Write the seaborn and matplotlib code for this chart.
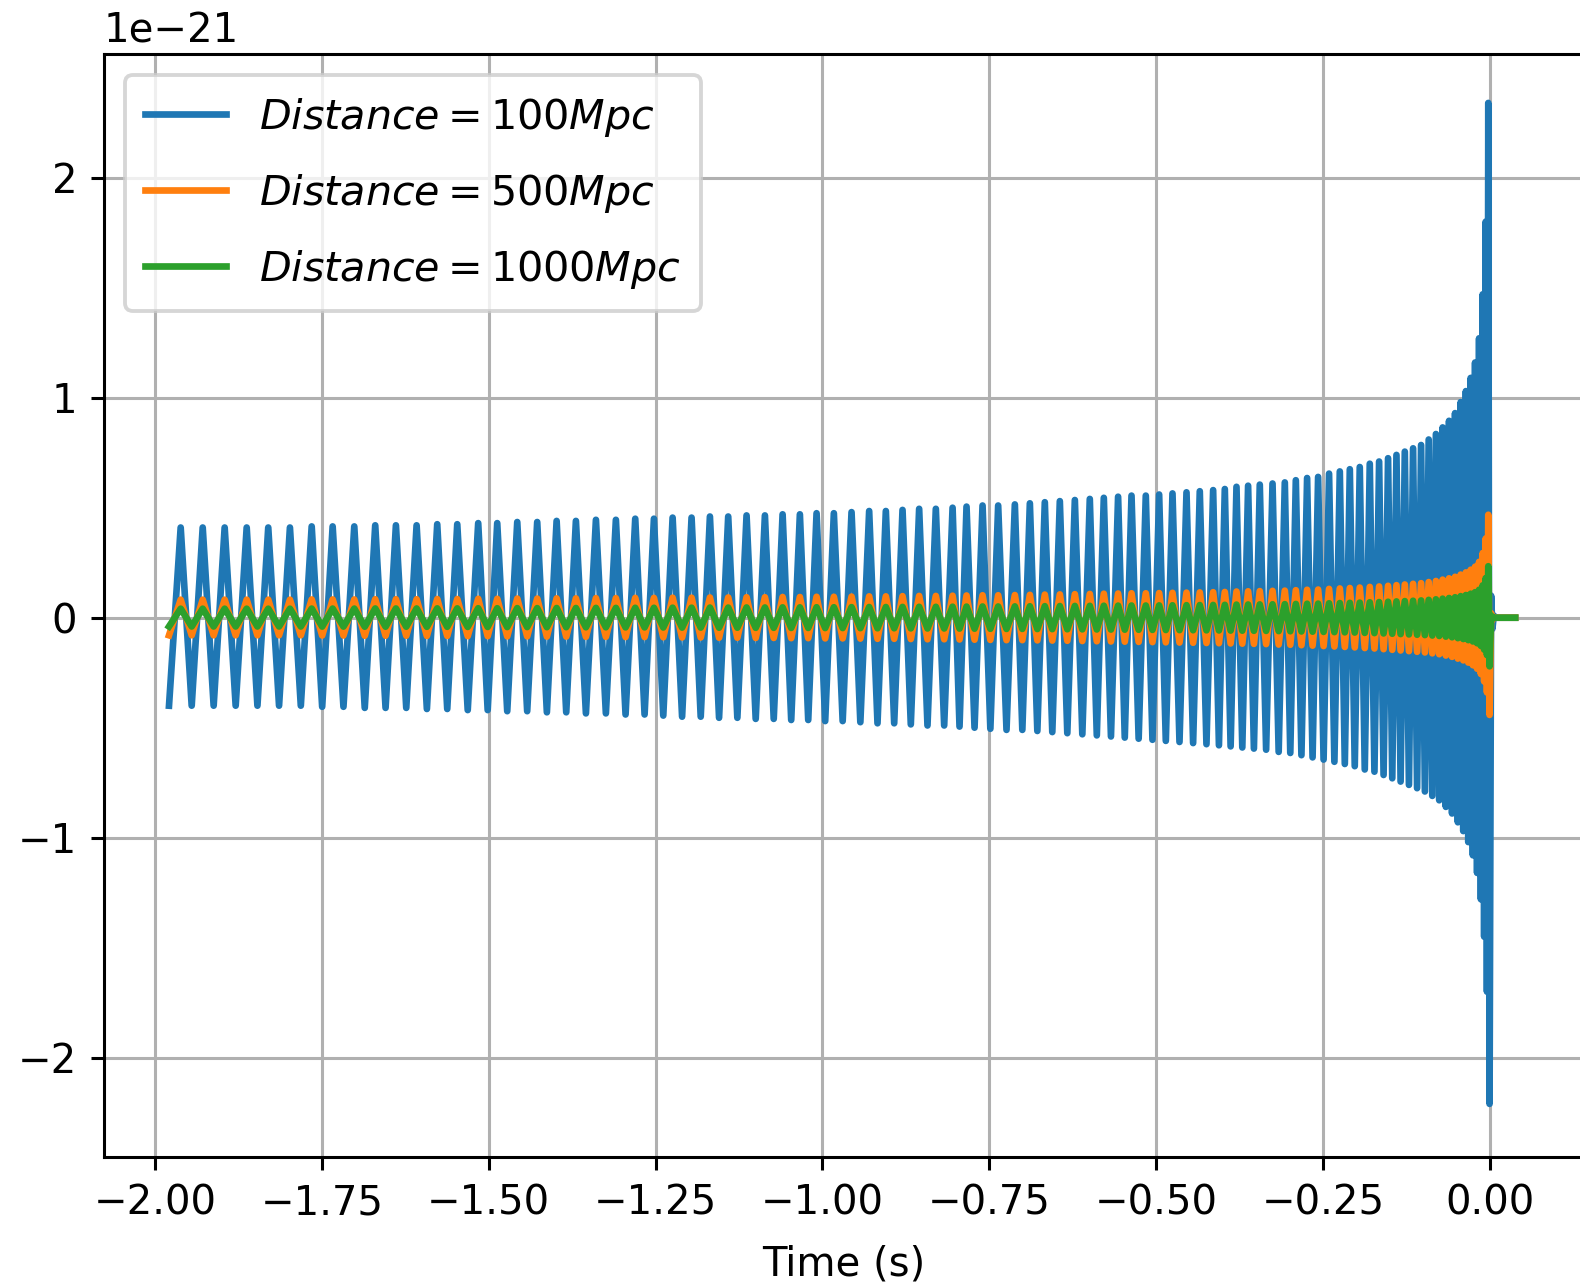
import numpy as np
import pandas as pd
import matplotlib
matplotlib.use("Agg")
import matplotlib.pyplot as plt
import seaborn as sns

# strain waveform at 100 Mpc (units of 1e-21)
# upper extrema (time in s, value)
top_t = [-1.9615, -1.9285, -1.8956, -1.8626, -1.8303, -1.7978, -1.7652, -1.7338, -1.7014, -1.6700, -1.6390, -1.6080,
         -1.5771, -1.5471, -1.5157, -1.4872, -1.4572, -1.4273, -1.3982, -1.3693, -1.3393, -1.3094, -1.2804, -1.2524, -1.2244,
         -1.1960, -1.1685, -1.1411, -1.1136, -1.0861, -1.0596, -1.0337, -1.0087, -0.9828, -0.9563, -0.9299, -0.9049, -0.8799,
         -0.8550, -0.8300, -0.8049,
         -0.7840, -0.7600, -0.7366, -0.7116, -0.6891, -0.6667, -0.6442, -0.6217, -0.5993, -0.5783, -0.5569, -0.5368, -0.5154,
         -0.4954, -0.4754, -0.4544, -0.4345, -0.4145, -0.3970,
         -0.3795, -0.3621, -0.3446, -0.3255, -0.3071, -0.2906, -0.2737, -0.2572, -0.2408, -0.2247, -0.2097, -0.1948, -0.1798,
         -0.1658, -0.1524, -0.1398, -0.1273, -0.1149,
         -0.1029, -0.0915, -0.0807, -0.0706, -0.0610, -0.0520, -0.0436, -0.0358, -0.0286, -0.0220, -0.0160, -0.0106, -0.0061,
         -0.0022]
top_h = [0.41, 0.41, 0.41, 0.41, 0.41, 0.41, 0.415, 0.415, 0.415, 0.42, 0.42, 0.42,
         0.425, 0.425, 0.43, 0.43, 0.435, 0.435, 0.44, 0.44, 0.445, 0.445, 0.45, 0.45, 0.455,
         0.455, 0.46, 0.46, 0.465, 0.465, 0.47, 0.47, 0.475, 0.475, 0.48, 0.485, 0.485, 0.49, 0.495, 0.495, 0.50,
         0.505, 0.51, 0.51, 0.515, 0.52, 0.525, 0.53, 0.535, 0.54, 0.545, 0.55, 0.555, 0.555, 0.56, 0.565, 0.57, 0.575,
         0.58, 0.585,
         0.595, 0.60, 0.605, 0.61, 0.615, 0.625, 0.635, 0.64, 0.655, 0.665, 0.675, 0.685, 0.70, 0.71, 0.725, 0.74, 0.755,
         0.77,
         0.785, 0.81, 0.835, 0.865, 0.895, 0.93, 0.98, 1.03, 1.09, 1.16, 1.27, 1.47, 1.80, 2.34]

# lower extrema
bot_t = [-1.9790, -1.9450, -1.9121, -1.8791, -1.8465, -1.8141, -1.7815, -1.7495, -1.7176, -1.6857, -1.6545, -1.6235,
         -1.5926, -1.5621, -1.5314, -1.5015, -1.4722, -1.4423, -1.4128, -1.3838, -1.3543, -1.3244, -1.2949, -1.2664, -1.2384,
         -1.2102, -1.1823, -1.1548, -1.1274, -1.0999, -1.0729, -1.0467, -1.0212, -0.9958, -0.9696, -0.9431, -0.9174, -0.8924,
         -0.8675, -0.8425, -0.8175,
         -0.7945, -0.7720, -0.7483, -0.7241, -0.7004, -0.6779, -0.6555, -0.6330, -0.6105, -0.5888, -0.5676, -0.5469, -0.5261,
         -0.5054, -0.4854, -0.4649, -0.4445, -0.4245, -0.4058,
         -0.3883, -0.3708, -0.3534, -0.3351, -0.3163, -0.2989, -0.2822, -0.2655, -0.2490, -0.2328, -0.2172, -0.2023, -0.1873,
         -0.1728, -0.1591, -0.1461, -0.1336, -0.1211,
         -0.1089, -0.0972, -0.0861, -0.0757, -0.0658, -0.0565, -0.0478, -0.0397, -0.0322, -0.0253, -0.0190, -0.0133, -0.0084,
         -0.0042, -0.0003]
bot_h = [-0.40, -0.40, -0.40, -0.40, -0.40, -0.40, -0.40, -0.405, -0.405, -0.41, -0.41, -0.41,
         -0.415, -0.415, -0.42, -0.42, -0.425, -0.425, -0.43, -0.43, -0.435, -0.435, -0.44, -0.44, -0.445,
         -0.45, -0.45, -0.455, -0.455, -0.46, -0.46, -0.465, -0.465, -0.47, -0.47, -0.475, -0.48, -0.48, -0.485, -0.49, -0.49,
         -0.495, -0.50, -0.505, -0.51, -0.51, -0.515, -0.52, -0.525, -0.53, -0.535, -0.54, -0.545, -0.55, -0.555, -0.56,
         -0.565, -0.57, -0.575, -0.58,
         -0.585, -0.59, -0.595, -0.60, -0.61, -0.615, -0.625, -0.635, -0.645, -0.655, -0.665, -0.675, -0.69, -0.70, -0.715,
         -0.73, -0.745, -0.76,
         -0.775, -0.79, -0.81, -0.83, -0.86, -0.89, -0.93, -0.97, -1.02, -1.08, -1.16, -1.28, -1.45, -1.70, -2.21]

# ringdown and flat tail after merger
ring_t = [0.0020, 0.0040, 0.0060, 0.0085, 0.0380]
ring_h = [0.10, -0.05, 0.01, 0.0, 0.0]

distances = [100, 500, 1000]  # Mpc, strain scales as 1/distance
colors = ['#1f77b4', '#ff7f0e', '#2ca02c']

wave = pd.DataFrame({
    't': top_t + bot_t + ring_t,
    'h': top_h + bot_h + ring_h,
}).sort_values('t').reset_index(drop=True)

dpi = 275
plt.rcParams['font.size'] = 10.5
fig = plt.figure(figsize=(1580 / dpi, 1285 / dpi), dpi=dpi)
ax = fig.add_axes([104 / 1580, 1 - 1157 / 1285, (1584 - 104) / 1580, (1157 - 54.4) / 1285])

for d, c in zip(distances, colors):
    sns.lineplot(x=wave['t'], y=wave['h'] * 1e-21 * 100 / d, ax=ax, color=c, linewidth=1.75,
                 sort=False, estimator=None, label=f'$Distance = {d} Mpc$')

ax.set_xlim(-2.0764, 0.1412)
ax.set_ylim(-2.4514e-21, 2.5605e-21)
ax.set_xticks([-2.0, -1.75, -1.5, -1.25, -1.0, -0.75, -0.5, -0.25, 0.0])
ax.set_xlabel('Time (s)', fontsize=10.5, labelpad=5.5)
ax.set_ylabel('')
ax.tick_params(labelsize=10.5)
ax.grid(True)
ax.legend(loc='upper left', fontsize=10.8, labelspacing=0.8, borderpad=0.5, handlelength=1.95)

fig.savefig('out.png', dpi=dpi)
